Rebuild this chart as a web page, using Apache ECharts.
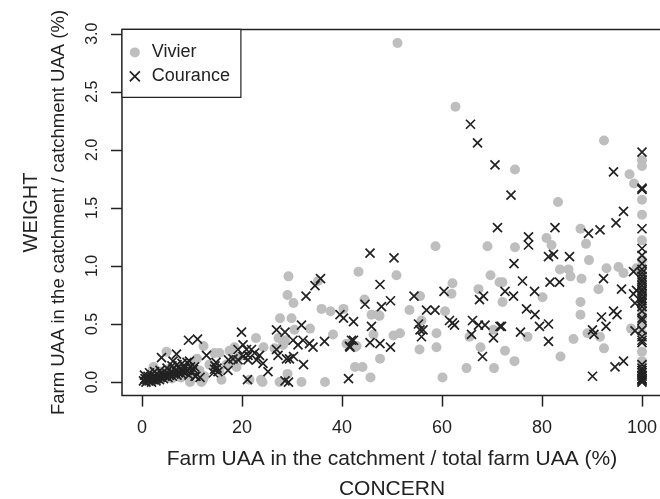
<!DOCTYPE html>
<html>
<head>
<meta charset="utf-8">
<script src="https://cdn.jsdelivr.net/npm/echarts@6/dist/echarts.min.js"></script>
<style>
  html, body { margin: 0; padding: 0; background: #fff; }
  #chart { width: 660px; height: 499px; }
</style>
</head>
<body>
<div id="chart"></div>
<script>
// [x = farm UAA in catchment / total farm UAA (%), y = farm UAA in catchment / catchment UAA (%)]
const vivier = [
  [51.1, 2.92], [62.7, 2.37], [74.6, 1.83], [92.4, 2.08], [97.5, 1.79], [98.4, 1.71], [83.2, 1.55],
  [87.7, 1.32], [80.9, 1.24], [81.9, 1.18], [88.8, 1.19], [58.7, 1.17], [69.1, 1.17], [74.6, 1.16],
  [89.4, 1.05], [83.6, 0.97], [85.3, 0.97], [85.7, 0.91], [87.9, 0.89], [92.9, 0.98], [95.3, 0.99],
  [96.3, 0.94], [98.9, 0.98], [91.3, 0.80], [72.1, 0.86], [72.1, 0.69], [80.1, 0.73], [77.1, 0.39],
  [72.6, 0.27], [74.5, 0.18], [83.7, 0.22], [86.3, 0.37], [87.7, 0.69], [87.7, 0.58], [89.1, 0.42],
  [91.6, 0.39], [92.4, 0.29], [97.8, 0.46],
  [43.3, 0.95], [50.9, 0.92], [40.3, 0.63], [47.5, 0.57], [46.3, 0.41], [50.3, 0.40], [51.6, 0.42],
  [42.6, 0.30], [47.6, 0.20], [42.6, 0.13], [44.1, 0.13], [45.7, 0.04], [53.5, 0.62], [55.6, 0.74],
  [55.5, 0.28], [58.9, 0.42], [58.9, 0.30], [60.1, 0.04], [62.1, 0.85], [61.9, 0.76], [60.6, 0.61],
  [64.9, 0.12], [65.5, 0.39], [67.3, 0.80], [67.7, 0.30], [69.7, 0.92], [71.5, 0.86], [70.3, 0.45],
  [70.4, 0.12], [55.9, 0.53], [45.9, 0.58], [47.2, 0.58], [44.5, 0.71],
  [29.3, 0.91], [29.1, 0.75], [30.3, 0.68], [35.2, 0.87], [35.9, 0.63], [37.7, 0.61], [27.6, 0.55],
  [29.9, 0.55], [33.6, 0.46], [30.5, 0.45], [27.3, 0.38], [28.6, 0.36], [22.8, 0.38], [38.2, 0.41],
  [40.9, 0.33], [42.9, 0.31], [26.5, 0.29], [28.2, 0.32], [24.1, 0.00], [27.5, 0.00], [29.1, 0.07],
  [31.9, 0.00], [36.6, 0.00], [21.5, 0.02], [23.8, 0.02], [24.3, 0.30], [18.3, 0.19], [18.9, 0.13],
  [12.3, 0.31], [14.5, 0.25], [15.5, 0.25], [17.5, 0.27], [16.9, 0.15], [12.2, 0.02], [15.9, 0.02],
  [9.6, 0.00], [11.9, 0.00], [4.9, 0.26], [2.1, 0.10], [2.3, 0.13], [18.5, 0.30], [19.5, 0.22],
  [11.5, 0.10], [12.5, 0.05], [7.2, 0.12], [15.5, 0.10], [13.5, 0.15], [11.0, 0.20], [10.0, 0.15],
  [1.0, 0.04], [1.8, 0.07], [3.0, 0.02], [3.5, 0.09], [4.2, 0.05], [5.3, 0.11], [6.0, 0.03],
  [6.5, 0.09], [7.8, 0.04], [8.5, 0.10], [10.4, 0.08],
  [100, 1.91], [100, 1.86], [100, 1.57], [100, 1.44], [100, 1.22], [100, 1.05], [100, 0.99],
  [100, 0.93], [100, 0.85], [100, 0.79], [100, 0.72], [100, 0.62], [100, 0.55], [100, 0.49],
  [100, 0.42], [100, 0.26], [100, 0.18]
];

const courance = [
  [65.7, 2.22], [67.1, 2.06], [70.6, 1.87], [73.8, 1.61], [94.3, 1.81], [96.3, 1.47], [94.8, 1.37],
  [91.6, 1.31], [89.3, 1.28], [71.1, 1.33], [77.3, 1.25], [77.3, 1.18], [82.6, 1.33], [45.6, 1.11],
  [50.4, 1.07], [74.4, 1.02], [81.3, 1.08], [82.3, 1.10], [85.5, 1.08], [81.6, 0.86], [83.5, 0.86],
  [92.3, 0.89], [95.9, 0.80], [98.3, 0.95], [98.3, 0.76], [98.9, 0.79], [98.6, 0.68], [76.1, 0.87],
  [72.6, 0.78], [74.3, 0.74], [78.5, 0.78], [76.9, 0.63], [78.6, 0.58], [71.6, 0.48], [75.7, 0.43],
  [79.5, 0.48], [81.3, 0.50], [81.3, 0.35], [90.1, 0.45], [90.4, 0.41], [91.9, 0.56], [92.8, 0.48],
  [94.3, 0.61], [95.0, 0.58], [98.6, 0.44], [90.1, 0.05], [94.6, 0.13], [96.3, 0.18],
  [47.6, 0.84], [44.6, 0.67], [47.9, 0.65], [49.7, 0.70], [39.6, 0.58], [40.3, 0.55], [42.3, 0.52],
  [45.9, 0.48], [41.6, 0.30], [42.3, 0.36], [45.6, 0.34], [47.6, 0.33], [49.7, 0.30], [41.3, 0.03],
  [54.4, 0.74], [55.3, 0.50], [55.6, 0.45], [55.9, 0.39], [56.9, 0.62], [58.6, 0.62], [60.4, 0.78],
  [61.5, 0.53], [62.1, 0.51], [66.1, 0.53], [65.9, 0.41], [67.5, 0.71], [68.3, 0.74], [67.3, 0.49],
  [68.6, 0.49], [68.1, 0.22], [70.3, 0.38], [71.9, 0.48], [62.5, 0.49], [56.2, 0.45],
  [35.7, 0.89], [34.6, 0.83], [32.8, 0.74], [31.9, 0.49], [26.9, 0.45], [28.6, 0.43], [19.9, 0.43],
  [21.1, 0.02], [28.6, 0.01], [29.3, 0.00], [32.3, 0.15], [30.2, 0.36], [31.2, 0.32], [32.2, 0.36],
  [33.5, 0.33], [34.2, 0.30], [36.5, 0.35], [41.9, 0.36], [41.5, 0.31], [20.9, 0.28], [21.9, 0.28],
  [22.5, 0.25], [23.5, 0.23], [21.2, 0.19], [22.9, 0.19], [24.2, 0.16], [25.2, 0.09], [26.9, 0.28],
  [27.2, 0.23], [29.5, 0.20], [20.2, 0.32], [19.2, 0.28], [18.2, 0.20], [19.2, 0.19], [20.2, 0.22],
  [21.2, 0.23], [17.2, 0.10], [12.9, 0.23], [9.3, 0.36], [11.1, 0.37], [3.9, 0.21], [6.9, 0.24],
  [6.2, 0.18], [9.5, 0.18], [10.5, 0.13], [11.6, 0.04], [10.6, 0.05], [14.3, 0.08], [14.5, 0.11],
  [14.6, 0.14], [14.8, 0.17], [15.0, 0.12], [15.2, 0.09], [17.3, 0.19], [28.9, 0.20], [30.3, 0.22],
  [0.3, 0.01], [0.6, 0.03], [0.8, 0.00], [1.0, 0.02], [1.2, 0.05], [1.4, 0.01], [1.7, 0.03],
  [1.9, 0.00], [2.1, 0.04], [2.3, 0.02], [2.6, 0.05], [2.8, 0.01], [3.0, 0.03], [3.3, 0.06],
  [3.5, 0.02], [3.8, 0.04], [4.0, 0.07], [4.3, 0.03], [4.6, 0.05], [4.9, 0.08], [5.2, 0.04],
  [5.5, 0.06], [5.8, 0.09], [6.1, 0.05], [6.4, 0.07], [6.7, 0.10], [7.0, 0.06], [7.3, 0.08],
  [7.6, 0.11], [7.9, 0.07], [8.2, 0.09], [8.5, 0.12], [8.8, 0.08], [9.1, 0.10], [9.4, 0.06],
  [9.7, 0.13], [10.0, 0.09], [10.3, 0.11], [0.5, 0.06], [1.5, 0.08], [2.5, 0.09], [3.6, 0.10],
  [5.0, 0.12], [6.0, 0.14], [7.0, 0.15], [8.0, 0.16], [9.0, 0.17], [10.8, 0.05],
  [100, 1.98], [100, 1.67], [100, 1.66], [100, 1.32], [100, 1.15], [100, 1.09], [100, 1.02],
  [100, 0.97], [100, 0.94], [100, 0.91], [100, 0.88], [100, 0.86], [100, 0.83], [100, 0.80],
  [100, 0.78], [100, 0.75], [100, 0.72], [100, 0.70], [100, 0.68], [100, 0.65], [100, 0.61],
  [100, 0.55], [100, 0.53], [100, 0.45], [100, 0.39], [100, 0.36], [100, 0.34], [100, 0.15],
  [100, 0.12], [100, 0.10], [100, 0.08], [100, 0.06], [100, 0.05], [100, 0.03], [100, 0.02],
  [100, 0.01], [100, 0.00]
];

const xTicks = [0, 20, 40, 60, 80, 100];
const yTicks = [0, 0.5, 1, 1.5, 2, 2.5, 3];

const FONT = 'Liberation Sans, Arial, sans-serif';
const INK = '#222';
const GREY = '#bebebe';
const CROSS = 'path://M0,0L10,10M0,10L10,0';
const TICK = 11;

// plot box: 4% padding around the data range, like R
const X_MIN = -4, X_MAX = 104;
const Y_MIN = -0.1168, Y_MAX = 3.0368;
const GRID = { left: 122, top: 29.4, width: 540, height: 366.2 };

const chart = echarts.init(document.getElementById('chart'), null, { renderer: 'canvas' });

chart.setOption({
  animation: false,
  backgroundColor: '#fff',
  grid: Object.assign({
    outerBoundsMode: 'none',
    show: true,
    borderColor: INK,
    borderWidth: 1.5,
    backgroundColor: 'transparent'
  }, GRID),
  legend: {
    orient: 'vertical',
    left: GRID.left,
    top: GRID.top,
    padding: [11, 11, 9, 7],
    itemGap: 0,
    itemWidth: 24,
    itemHeight: 10,
    borderColor: INK,
    borderWidth: 1.2,
    backgroundColor: '#fff',
    textStyle: { fontSize: 18, lineHeight: 24, color: INK, fontFamily: FONT },
    data: [
      { name: 'Vivier', icon: 'circle', itemStyle: { color: GREY } },
      { name: 'Courance', icon: CROSS, itemStyle: { color: INK, borderColor: INK, borderWidth: 1.7 } }
    ]
  },
  xAxis: {
    type: 'value',
    min: X_MIN,
    max: X_MAX,
    name: '{f|Farm UAA in the catchment / total farm UAA (%)}\n{c|CONCERN}',
    nameLocation: 'middle',
    nameGap: 49,
    nameTextStyle: {
      color: INK,
      rich: {
        f: { fontSize: 21, lineHeight: 30, fontFamily: FONT, color: INK },
        c: { fontSize: 21, lineHeight: 30, fontFamily: FONT, color: INK }
      }
    },
    axisLine: { show: false, onZero: false },
    splitLine: { show: false },
    axisTick: { show: false },
    axisLabel: {
      customValues: xTicks,
      margin: 23,
      fontSize: 18,
      color: INK,
      fontFamily: FONT
    }
  },
  yAxis: {
    type: 'value',
    min: Y_MIN,
    max: Y_MAX,
    name: '{w|WEIGHT}\n{f|Farm UAA in the catchment / catchment UAA (%)}',
    nameLocation: 'middle',
    nameGap: 49,
    nameTextStyle: {
      color: INK,
      rich: {
        w: { fontSize: 20, lineHeight: 28, fontFamily: FONT, color: INK },
        f: { fontSize: 18.5, lineHeight: 28, fontFamily: FONT, color: INK }
      }
    },
    axisLine: { show: false, onZero: false },
    splitLine: { show: false },
    axisTick: { show: false },
    axisLabel: {
      customValues: yTicks,
      rotate: 90,
      margin: 21,
      fontSize: 16,
      color: INK,
      fontFamily: FONT,
      formatter: function (v) { return v.toFixed(1); }
    }
  },
  series: [
    {
      name: 'Vivier',
      type: 'scatter',
      symbol: 'circle',
      symbolSize: 10,
      itemStyle: { color: GREY, opacity: 1 },
      data: vivier
    },
    {
      name: 'Courance',
      type: 'scatter',
      symbol: CROSS,
      symbolSize: 9,
      itemStyle: { color: INK, borderColor: INK, borderWidth: 1.7, opacity: 1 },
      data: courance
    }
  ]
});

// outward tick marks on the box edges (axis decoration only)
try {
  const bottom = GRID.top + GRID.height;
  const ticks = [];
  xTicks.forEach(function (v) {
    const x = Math.round(GRID.left + (v - X_MIN) / (X_MAX - X_MIN) * GRID.width) + 0.5;
    ticks.push({
      type: 'line', z: 100, silent: true,
      shape: { x1: x, y1: bottom, x2: x, y2: bottom + TICK },
      style: { stroke: INK, lineWidth: 1.5 }
    });
  });
  yTicks.forEach(function (v) {
    const y = Math.round(GRID.top + (Y_MAX - v) / (Y_MAX - Y_MIN) * GRID.height) + 0.5;
    ticks.push({
      type: 'line', z: 100, silent: true,
      shape: { x1: GRID.left - TICK, y1: y, x2: GRID.left, y2: y },
      style: { stroke: INK, lineWidth: 1.5 }
    });
  });
  chart.setOption({ graphic: { elements: ticks } });
} catch (e) {
  console.error(e);
}
</script>
</body>
</html>
